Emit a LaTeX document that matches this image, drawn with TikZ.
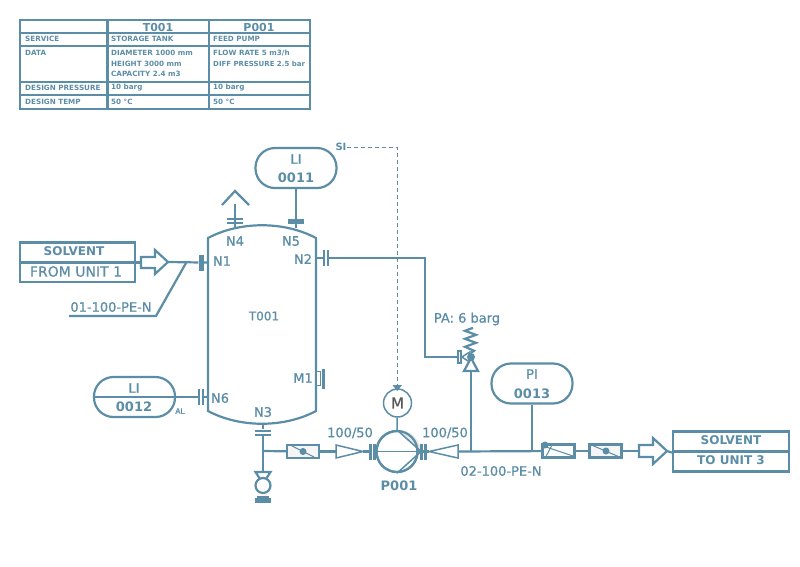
\documentclass[tikz,border=0pt]{standalone}
\usepackage{fontspec}
\setmainfont{DejaVu Sans}
\newfontfamily\pidfont[FakeBold=0.8]{DejaVu Sans}
\usetikzlibrary{calc}
\definecolor{pid}{HTML}{5B8DA6}
\tikzset{
    ln/.style={draw=pid, line width=2.2pt},
    thinln/.style={draw=pid, line width=1pt},
    midln/.style={draw=pid, line width=1.5pt},
    lbl/.style={text=pid, font=\pidfont\fontsize{13}{13}\selectfont, inner sep=0pt},
    tag/.style={text=pid, font=\bfseries\fontsize{13}{13}\selectfont, inner sep=0pt},
    cell/.style={text=pid, font=\bfseries\fontsize{7.2}{7.2}\selectfont, inner sep=0pt, anchor=west},
    bubble/.style={ln, rounded corners=19.5pt, minimum width=81pt, minimum height=40pt, inner sep=0pt},
    unitbox/.style={ln, minimum height=20pt, inner sep=0pt},
    flange/.style={fill=pid, inner sep=0pt, minimum width=2pt, minimum height=16pt},
    flangeh/.style={fill=pid, inner sep=0pt, minimum width=16pt, minimum height=2pt},
    valvebox/.style={ln, fill=gray!8, minimum width=32pt, minimum height=13pt, inner sep=0pt},
    dot/.style={circle, fill=pid, inner sep=0pt, minimum size=#1},
    pt/.style={inner sep=0pt, minimum size=0pt}
}
\begin{document}
\begin{tikzpicture}[x=1pt,y=-1pt]
\useasboundingbox (0,0) rectangle (800,566);

\draw[ln] (20,20) rectangle (310,109);
\foreach \rowy in {33,46,82,95}
    \draw[ln] (20,\rowy) -- (310,\rowy);
\foreach \colx in {107.5,209}
    \draw[ln] (\colx,20) -- (\colx,109);
\node[lbl, font=\bfseries\fontsize{11}{11}\selectfont] (headT) at (158,27) {T001};
\node[lbl, font=\bfseries\fontsize{11}{11}\selectfont] (headP) at (259,27) {P001};
\node[cell] (rowService) at (25,38.5) {SERVICE};
\node[cell] (rowData) at (25,52.5) {DATA};
\node[cell] (rowPress) at (25,88) {DESIGN PRESSURE};
\node[cell] (rowTemp) at (25,101.5) {DESIGN TEMP};
\node[cell] (tService) at (111,39) {STORAGE TANK};
\node[cell] (tDia) at (111,53) {DIAMETER 1000 mm};
\node[cell] (tHgt) at (111,64) {HEIGHT 3000 mm};
\node[cell] (tCap) at (111,74) {CAPACITY 2.4 m3};
\node[cell] (tPress) at (111,88) {10 barg};
\node[cell] (tTemp) at (111,101.5) {50 °C};
\node[cell] (pService) at (213,38.5) {FEED PUMP};
\node[cell] (pFlow) at (213,53) {FLOW RATE 5 m3/h};
\node[cell, font=\bfseries\fontsize{7}{7}\selectfont] (pDiff) at (213,64) {DIFF PRESSURE 2.5 bar};
\node[cell] (pPress) at (213,88) {10 barg};
\node[cell] (pTemp) at (213,101.5) {50 °C};

\coordinate (tankNW) at (208,238);
\coordinate (tankNE) at (316,238);
\coordinate (tankSE) at (316,411);
\coordinate (tankSW) at (208,411);
\draw[ln] (tankNW) .. controls (240,221) and (284,221) .. (tankNE) -- (tankSE)
    .. controls (284,428) and (240,428) .. (tankSW) -- cycle;
\node[lbl, font=\pidfont\fontsize{12}{12}\selectfont] (tankTag) at (264,316) {T001};
\node[lbl] (n1) at (222,261) {N1};
\node[lbl] (n2) at (303,259) {N2};
\node[lbl] (n3) at (263,412) {N3};
\node[lbl] (n4) at (235,241) {N4};
\node[lbl] (n5) at (291,241) {N5};
\node[lbl] (n6) at (220,398) {N6};
\node[lbl] (m1) at (303,378) {M1};

\node[bubble] (li11) at (296,168) {};
\node[lbl] (li11a) at (296,159) {LI};
\node[tag] (li11b) at (296,178) {0011};
\node[flangeh, minimum height=4.5pt] (n5f) at (296,221.5) {};
\coordinate (n5t) at (296,228);
\draw[midln] (li11) -- (n5f);
\draw[ln] (n5f) -- (n5t);

\coordinate (ventL) at (222,205);
\coordinate (ventA) at (235,191);
\coordinate (ventR) at (249,205);
\coordinate (ventS) at (235,204);
\coordinate (n4t) at (235,228);
\node[flangeh] (n4f1) at (235,219) {};
\node[flangeh] (n4f2) at (235,222.5) {};
\draw[ln] (ventL) -- (ventA) -- (ventR);
\draw[ln] (ventS) -- (n4t);

\node[unitbox, minimum width=115pt] (solA) at (77.5,252.5) {};
\node[unitbox, minimum width=115pt] (solB) at (77.5,272) {};
\node[tag, font=\bfseries\fontsize{12}{12}\selectfont] (solAt) at (74,251.5) {SOLVENT};
\node[lbl, font=\pidfont\fontsize{14}{14}\selectfont] (solBt) at (76,271.5) {FROM UNIT 1};
\coordinate (arrA) at (141,257);
\coordinate (arrTip) at (168,262);
\draw[ln] (arrA) -- (155,257) -- (155,250) -- (arrTip) -- (155,274) -- (155,268) -- (141,268) -- cycle;
\node[flange, minimum width=5pt] (n1f) at (201,262.5) {};
\coordinate (n1t) at (208,262.5);
\coordinate (leadA) at (186,263);
\coordinate (leadB) at (156,316);
\coordinate (leadC) at (69,316);
\draw[ln] (135,262.5) -- (arrA |- 135,262.5);
\draw[ln] (arrTip) -- (n1f) -- (n1t);
\draw[ln] (leadA) -- (leadB) -- (leadC);
\node[lbl] (line1) at (111,307) {01-100-PE-N};

\node[bubble] (li12) at (134.5,397) {};
\node[lbl] (li12a) at (134,388) {LI};
\node[tag] (li12b) at (134,407) {0012};
\node[lbl, font=\pidfont\fontsize{7.5}{7.5}\selectfont] (li12c) at (180,411) {AL};
\node[flange] (n6f1) at (199,397) {};
\node[flange] (n6f2) at (203,397) {};
\coordinate (n6t) at (208,397);
\draw[ln] (li12.west) -- (li12.east) -- (n6f1);
\draw[ln] (n6f2) -- (n6t);

\node[fill=white, draw=pid, line width=1.5pt, minimum width=4pt, minimum height=14pt, inner sep=0pt] (m1a) at (318.5,378.5) {};
\node[flange, minimum width=2.5pt, minimum height=20pt] (m1b) at (323.5,378.5) {};

\node[flange] (n2f1) at (324,258) {};
\node[flange] (n2f2) at (328,258) {};
\coordinate (n2t) at (316,258);
\coordinate (pa1) at (425,258);
\coordinate (pa2) at (425,357);
\node[midln, fill=gray!8, minimum width=3pt, minimum height=12pt, inner sep=0pt] (psvIn) at (459.5,357) {};
\draw[ln] (n2t) -- (n2f1);
\draw[ln] (n2f2) -- (pa1) -- (pa2) -- (psvIn);
\draw[midln, fill=white] (psvIn.east) -- ++(8,-5) -- ++(0,10) -- cycle;
\node[dot=8pt] (psvDot) at (471,357) {};
\coordinate (psvApex) at (471,358);
\coordinate (psvBase) at (471,371);
\draw[ln, fill=white] (psvApex) -- (478,371) -- (464,371) -- cycle;
\draw[ln] (psvDot.north) -- ++(3,-2) -- ++(-9,-4) -- ++(11,-4) -- ++(-11,-4) -- ++(11,-4) -- ++(-11,-4) -- ++(8,-3);
\node[lbl] (paLbl) at (467,319) {PA: 6 barg};

\node[bubble] (pi13) at (532,383.5) {};
\node[lbl] (pi13a) at (532,374) {PI};
\node[tag] (pi13b) at (532,394) {0013};

\node[lbl, font=\bfseries\fontsize{10}{10}\selectfont] (siBox) at (341,147) {SI};
\node[circle, midln, minimum size=28pt, inner sep=0pt, font=\pidfont\fontsize{15}{15}\selectfont, text=black!65] (motor) at (397.5,403) {M};
\coordinate (sigCorner) at (397,147);
\coordinate (sigEnd) at (397,387);
\draw[thinln, dash pattern=on 4pt off 3pt] (siBox) -- (sigCorner) -- (sigEnd);
\fill[pid] (392.5,385) -- (402,385) -- (397.25,391) -- cycle;

\node[circle, ln, minimum size=41pt, inner sep=0pt] (pump) at (397,451.5) {};
\coordinate (pumpNose) at (421,451.5);
\fill[gray!18] (pump.north) -- (pumpNose) to[bend right=45] cycle;
\draw[thinln] (pump.west) -- (pumpNose);
\draw[midln] (pump.north) -- (pumpNose) -- (pump.south);
\draw[ln] (397,451.5) circle (20.5);
\draw[midln] (motor) -- (pump.north);
\node[flange, minimum width=2.6pt] (pf1) at (370.5,451.5) {};
\node[flange, minimum width=2.6pt] (pf2) at (374.5,451.5) {};
\node[flange, minimum width=2.6pt] (pf3) at (421.5,451.5) {};
\node[flange, minimum width=2.6pt] (pf4) at (425.5,451.5) {};
\node[lbl] (redA) at (350,433) {100/50};
\node[lbl] (redB) at (445,433) {100/50};
\node[tag] (pumpTag) at (399,486) {P001};
\node[lbl] (line2) at (501,471) {02-100-PE-N};

\coordinate (n3t) at (263,425);
\node[flangeh] (n3f1) at (263,430.5) {};
\node[flangeh] (n3f2) at (263,434.5) {};
\coordinate (teeA) at (263,451);
\node[pt] (dvTop) at (263,472) {};
\node[valvebox] (fa) at (303,451.5) {};
\node[dot=7pt] (faDot) at (303,451.5) {};
\draw[thinln] (fa.north west) ++(6,2) -- ($(fa.south east)+(-6,-2)$);
\coordinate (redAin) at (336,451.5);
\coordinate (redAtip) at (363,451.5);
\draw[ln] (n3t) -- (n3f1);
\draw[ln] (n3f2) -- (dvTop);
\draw[ln] (teeA) -- (fa);
\draw[ln] (fa) -- (redAin);
\draw[midln] (redAin) -- (336,445) -- (redAtip) -- (336,458) -- cycle;
\draw[ln] (redAtip) -- (pf1);
\draw[ln] (pf2) -- (pump.west);
\coordinate (redBtip) at (429,451.5);
\coordinate (redBout) at (458,451.5);
\draw[ln] (pf3) -- (pf4) -- (redBtip);
\draw[midln] (redBout) -- (458,445) -- (redBtip) -- (458,458) -- cycle;

\node[valvebox, fill=white] (fb) at (558.5,451) {};
\node[dot=7pt] (fbDot) at (545,445) {};
\draw[thinln] (546,447) -- (573,456);
\draw[thinln] (546,456.5) -- (552,445);
\node[valvebox] (fc) at (605.5,451) {};
\node[dot=7pt] (fcDot) at (606,451) {};
\draw[thinln] (fc.north west) ++(4,2) -- ($(fc.south east)+(-4,-2)$);
\coordinate (teeB) at (471,451);
\coordinate (teeC) at (532,451);
\draw[ln] (redBout) -- (fb);
\draw[ln] (psvBase) -- (teeB);
\draw[midln] (pi13) -- (teeC);
\draw[ln] (fb) -- (fc);

\coordinate (arrBin) at (639,445);
\coordinate (arrBtip) at (667,451);
\draw[ln] (arrBin) -- (653,445) -- (653,438) -- (arrBtip) -- (653,464) -- (653,457) -- (639,457) -- cycle;
\node[pt] (arrBst) at (639,451) {};
\draw[ln] (fc) -- (arrBst);
\node[unitbox, minimum width=116pt] (toA) at (731,441.5) {};
\node[unitbox, minimum width=116pt] (toB) at (731,461.5) {};
\node[tag, font=\bfseries\fontsize{12}{12}\selectfont] (toAt) at (731,440.5) {SOLVENT};
\node[tag, font=\bfseries\fontsize{12}{12}\selectfont] (toBt) at (731,460.5) {TO UNIT 3};
\draw[ln] (arrBtip) -- (toA.south west);

\node[pt] (dvA) at (263,485) {};
\draw[ln, fill=white] (255.5,472) -- (270.5,472) -- (266,479) -- (260,479) -- cycle;
\draw[ln, fill=white] (263,485.5) circle (7.5);
\draw[ln] (257,497) -- (269,497);
\draw[ln] (255,499.5) -- (271,499.5);
\draw[ln] (255,502) -- (271,502);
\end{tikzpicture}
\end{document}
